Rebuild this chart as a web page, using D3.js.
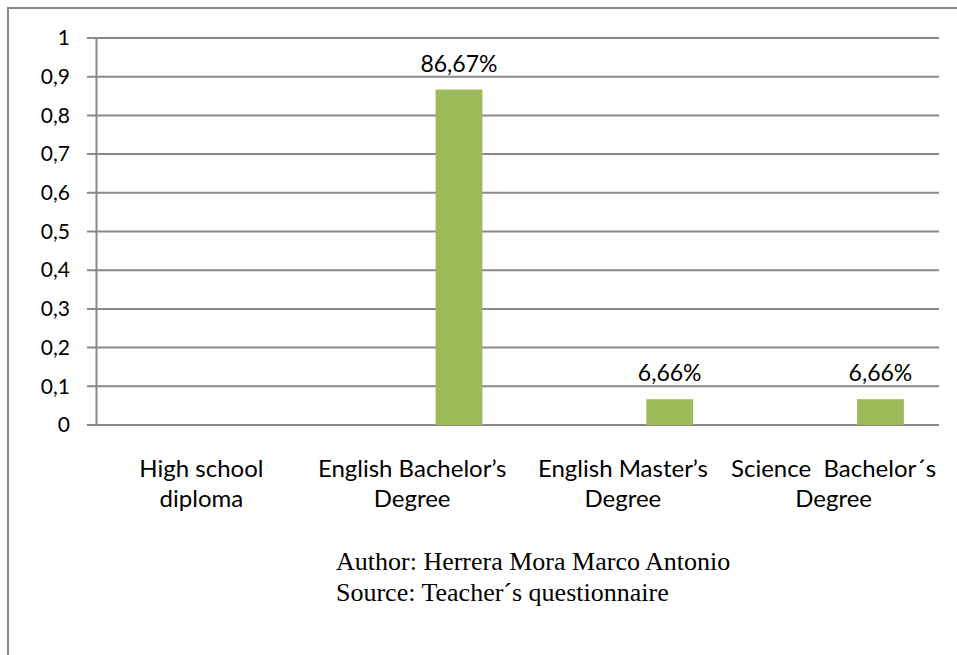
<!DOCTYPE html>
<html>
<head>
<meta charset="utf-8">
<script src="https://cdn.jsdelivr.net/npm/d3@7"></script>
<style>
  body { margin: 0; background: #fff; }
  svg { display: block; }
  text { white-space: pre; }
</style>
</head>
<body>
<div id="chart"></div>
<script>
// Chart data
var categories = ["High school diploma", "English Bachelor’s Degree", "English Master’s Degree", "Science  Bachelor´s Degree"];
var categoryLines = [["High school", "diploma"], ["English Bachelor’s", "Degree"], ["English Master’s", "Degree"], ["Science  Bachelor´s", "Degree"]];
// three series in the clustered chart, only the last one holds values
var seriesNames = ["Serie 1", "Serie 2", "Serie 3"];
var serie1 = [null, null, null, null];
var serie2 = [null, null, null, null];
var serie3 = [0, 0.8667, 0.0666, 0.0666];
var barLabels = ["", "86,67%", "6,66%", "6,66%"];
var yTicks = [0, 0.1, 0.2, 0.3, 0.4, 0.5, 0.6, 0.7, 0.8, 0.9, 1];
var footLines = ["Author: Herrera Mora Marco Antonio", "Source: Teacher´s questionnaire"];

var svgWidth = 957;
var svgHeight = 655;

var margin = { top: 38, right: 18, bottom: 230, left: 96 };
var width = svgWidth - margin.left - margin.right;
var height = svgHeight - margin.top - margin.bottom;

var svg = d3.select("#chart")
  .append("svg")
  .attr("width", svgWidth)
  .attr("height", svgHeight);

// outer frame (right and bottom edges fall outside the picture)
svg.append("rect")
  .attr("x", 8)
  .attr("y", 8)
  .attr("width", 980)
  .attr("height", 700)
  .attr("fill", "none")
  .attr("stroke", "#898989")
  .attr("stroke-width", 2);

var chartGroup = svg.append("g")
  .attr("transform", `translate(${margin.left}, ${margin.top})`);

var x = d3.scaleBand()
  .domain(categories)
  .range([0, width]);

// Excel style gap width 150%
var xSub = d3.scaleBand()
  .domain(seriesNames)
  .range([0, x.bandwidth()])
  .paddingInner(0)
  .paddingOuter(0.75);

var y = d3.scaleLinear()
  .domain([0, 1])
  .range([height, 0]);

// gridlines
chartGroup.append("g")
  .selectAll("line")
  .data(yTicks)
  .enter()
  .append("line")
  .attr("x1", -9)
  .attr("x2", width)
  .attr("y1", d => y(d))
  .attr("y2", d => y(d))
  .attr("stroke", "#898989")
  .attr("stroke-width", 2);

// y axis
var leftAxis = d3.axisLeft(y)
  .tickValues(yTicks)
  .tickSize(0)
  .tickPadding(26)
  .tickFormat(d => String(d).replace(".", ","));

var yAxis = chartGroup.append("g").call(leftAxis);
yAxis.select(".domain")
  .attr("stroke", "#898989")
  .attr("stroke-width", 2);
yAxis.selectAll("text")
  .attr("font-family", "Lato, 'Open Sans', sans-serif")
  .attr("font-size", "21px")
  .attr("fill", "#000");

// bars
var seriesData = [serie1, serie2, serie3];
seriesData.forEach(function(values, si) {
  chartGroup.append("g")
    .selectAll("rect")
    .data(values.map((v, i) => ({ cat: categories[i], value: v, label: barLabels[i] })))
    .enter()
    .filter(d => d.value !== null)
    .append("rect")
    .attr("x", d => x(d.cat) + xSub(seriesNames[si]))
    .attr("y", d => y(d.value))
    .attr("width", xSub.bandwidth())
    .attr("height", d => height - y(d.value))
    .attr("fill", "#9BBB59");
});

// data labels on the last series
chartGroup.append("g")
  .selectAll("text")
  .data(serie3.map((v, i) => ({ cat: categories[i], value: v, label: barLabels[i] })))
  .enter()
  .append("text")
  .attr("x", d => x(d.cat) + xSub(seriesNames[2]) + xSub.bandwidth() / 2)
  .attr("y", d => y(d.value) - 18)
  .attr("text-anchor", "middle")
  .attr("font-family", "Lato, 'Open Sans', sans-serif")
  .attr("font-size", "23px")
  .attr("fill", "#000")
  .text(d => d.label);

// category labels
var catGroup = chartGroup.append("g")
  .selectAll("text")
  .data(categories)
  .enter()
  .append("text")
  .attr("text-anchor", "middle")
  .attr("font-family", "Lato, 'Open Sans', sans-serif")
  .attr("font-size", "24px")
  .attr("fill", "#000")
  .attr("transform", d => `translate(${x(d) + x.bandwidth() / 2}, ${height + 52})`);

catGroup.selectAll("tspan")
  .data((d, i) => categoryLines[i])
  .enter()
  .append("tspan")
  .attr("x", 0)
  .attr("dy", (d, i) => i === 0 ? 0 : 30)
  .text(d => d);

// author / source
svg.append("g")
  .selectAll("text")
  .data(footLines)
  .enter()
  .append("text")
  .attr("x", 336)
  .attr("y", (d, i) => 570 + i * 31)
  .attr("font-family", "'Liberation Serif', 'Times New Roman', serif")
  .attr("font-size", "26px")
  .attr("fill", "#000")
  .text(d => d);
</script>
</body>
</html>
